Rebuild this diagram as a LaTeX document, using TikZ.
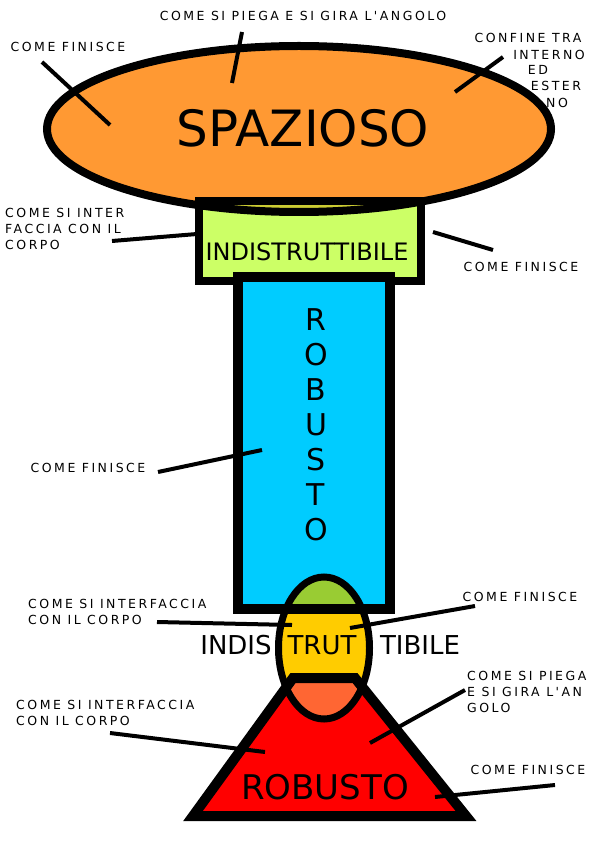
\documentclass[tikz,border=0pt]{standalone}
\usepackage{fontspec}
\setmainfont{DejaVu Sans}
\newfontfamily\lblfont[LetterSpace=20]{DejaVu Sans}
\definecolor{arancio}{HTML}{FF9933}
\definecolor{verdechiaro}{HTML}{CCFF66}
\definecolor{oliva}{HTML}{CCCC33}
\definecolor{azzurro}{HTML}{00CCFF}
\definecolor{verde}{HTML}{99CC33}
\definecolor{giallo}{HTML}{FFCC00}
\definecolor{aranciorosso}{HTML}{FF6633}

\begin{document}
\begin{tikzpicture}[x=1pt, y=-1pt,
  lbl/.style={font=\lblfont\fontsize{12.5}{16}\selectfont, inner sep=0pt, align=left},
  ttl/.style={inner sep=0pt},
  conn/.style={line width=4pt}]
\useasboundingbox (0,0) rectangle (595,842);

% testa
\fill[arancio] (299,129) ellipse [x radius=252pt, y radius=83pt];
\fill[verdechiaro] (199,201) rectangle (421,281);
\begin{scope}
\clip (299,129) ellipse [x radius=252pt, y radius=83pt];
\fill[oliva] (199,201) rectangle (421,281);
\end{scope}
\draw[line width=8pt] (299,129) ellipse [x radius=252pt, y radius=83pt];
\draw[line width=8pt] (199,201) rectangle (421,281);

% corpo
\filldraw[fill=azzurro, line width=10pt] (238,277) rectangle (390,609);

% giunto e base
\fill[giallo] (324,648) ellipse [x radius=45.5pt, y radius=71pt];
\begin{scope}
\clip (324,648) ellipse [x radius=45.5pt, y radius=71pt];
\fill[verde] (270,570) rectangle (380,609);
\end{scope}
\fill[red] (193,816) -- (293,678) -- (355,678) -- (466,816) -- cycle;
\begin{scope}
\clip (324,648) ellipse [x radius=45.5pt, y radius=71pt];
\fill[aranciorosso] (193,816) -- (293,678) -- (355,678) -- (466,816) -- cycle;
\end{scope}
\draw[line width=10pt] (193,816) -- (293,678) -- (355,678) -- (466,816) -- cycle;
\draw[line width=7pt] (324,648) ellipse [x radius=45.5pt, y radius=71pt];
\draw[line width=10pt] (238,277) rectangle (390,609);

% scritte grandi
\node[ttl, font=\fontsize{50}{50}\selectfont] (spazioso) at (303,128) {SPAZIOSO};
\node[ttl, font=\fontsize{24}{24}\selectfont] (indistr) at (307,252) {INDISTRUTTIBILE};
\foreach \l [count=\i] in {R,O,B,U,S,T,O}
  \node[ttl, font=\fontsize{30}{30}\selectfont] (rob\i) at (316,{285+35*\i}) {\l};
\node[ttl, font=\fontsize{26}{26}\selectfont] (indis) at (236,645) {INDIS};
\node[ttl, font=\fontsize{26}{26}\selectfont] (trut) at (322,645) {TRUT};
\node[ttl, font=\fontsize{26}{26}\selectfont] (tibile) at (420,645) {TIBILE};
\node[ttl, font=\fontsize{34}{34}\selectfont] (robusto) at (325,787) {ROBUSTO};

% etichette
\node[lbl] (l1) at (303,16) {COME SI PIEGA E SI GIRA L'ANGOLO};
\node[lbl] (l2) at (68,47) {COME FINISCE};
\node[lbl] (l3a) at (528,38) {CONFINE TRA};
\node[lbl] (l3b) at (549,55) {INTERNO};
\node[lbl] (l3c) at (538,70) {ED};
\node[lbl] (l3d) at (556,86) {ESTER};
\node[lbl] (l3e) at (557,103) {NO};
\node[lbl, anchor=west] (l4) at (5,229) {COME SI INTER\\FACCIA CON IL\\CORPO};
\node[lbl] (l5) at (521,267) {COME FINISCE};
\node[lbl] (l6) at (88,468) {COME FINISCE};
\node[lbl, anchor=west] (l7) at (28,612) {COME SI INTERFACCIA\\CON IL CORPO};
\node[lbl] (l8) at (520,597) {COME FINISCE};
\node[lbl, anchor=west] (l9) at (16,713) {COME SI INTERFACCIA\\CON IL CORPO};
\node[lbl, anchor=west] (l10) at (467,692) {COME SI PIEGA\\E SI GIRA L'AN\\GOLO};
\node[lbl] (l11) at (528,770) {COME FINISCE};

% linee
\coordinate (a1) at (42,62);   \coordinate (b1) at (110,125);
\coordinate (a2) at (242,32);  \coordinate (b2) at (232,83);
\coordinate (a3) at (503,57);  \coordinate (b3) at (455,92);
\coordinate (a4) at (112,241); \coordinate (b4) at (197,234);
\coordinate (a5) at (493,250); \coordinate (b5) at (433,232);
\coordinate (a6) at (158,472); \coordinate (b6) at (262,450);
\coordinate (a7) at (157,622); \coordinate (b7) at (292,625);
\coordinate (a8) at (475,606); \coordinate (b8) at (350,628);
\coordinate (a9) at (110,733); \coordinate (b9) at (265,752);
\coordinate (a10) at (465,690); \coordinate (b10) at (370,743);
\coordinate (a11) at (555,785); \coordinate (b11) at (435,797);
\foreach \i in {1,...,11}
  \draw[conn] (a\i) -- (b\i);
\end{tikzpicture}
\end{document}
